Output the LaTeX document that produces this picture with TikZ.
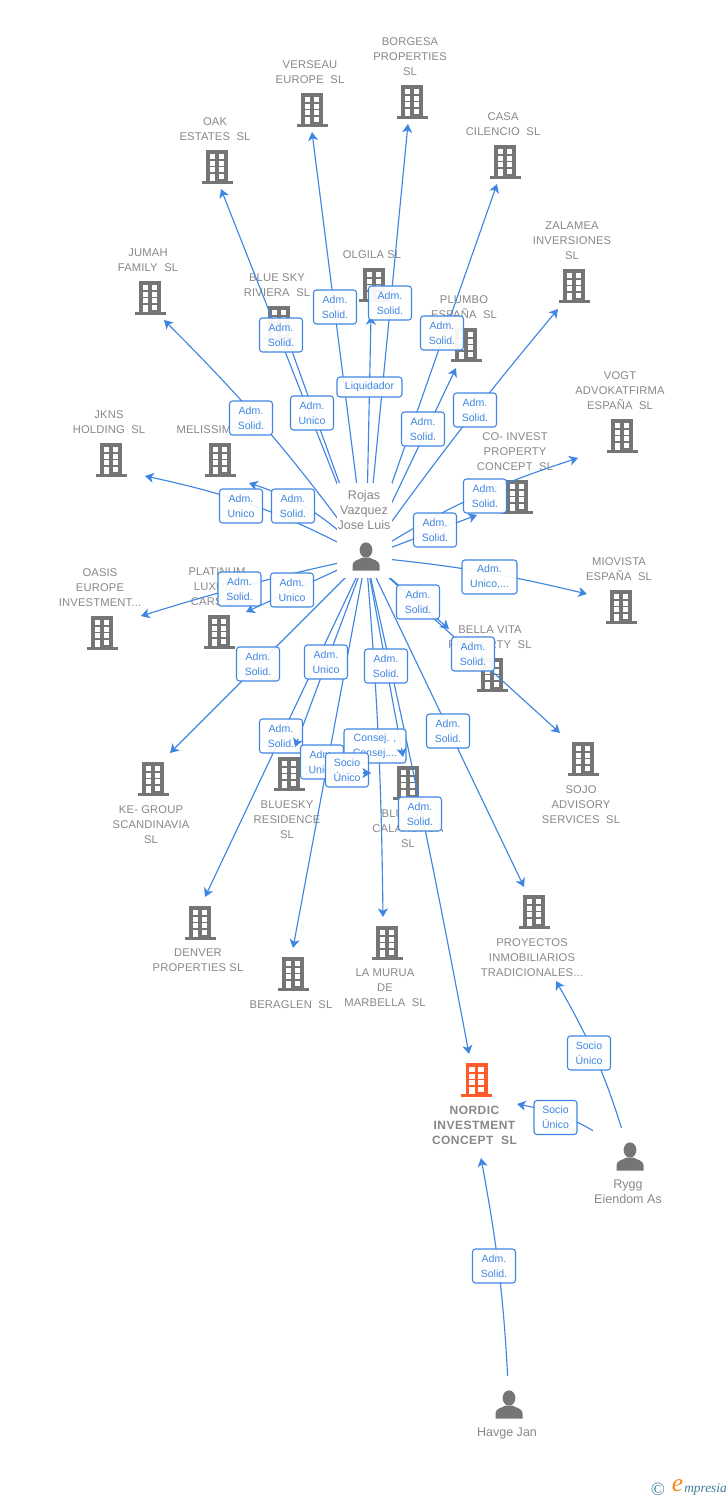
\documentclass[tikz,border=0pt]{standalone}
\usepackage{fontspec}
\setmainfont{Liberation Sans}
\newfontfamily\logofont{Liberation Serif}
\usetikzlibrary{arrows.meta, positioning}
\definecolor{bldggray}{HTML}{757575}
\definecolor{namegray}{HTML}{888888}
\definecolor{linkblue}{HTML}{3F86E2}
\definecolor{nordicorange}{HTML}{FF5A2B}
\definecolor{logoteal}{HTML}{3F7F9C}
\definecolor{logoorange}{HTML}{F5851F}
\tikzset{
    tower/.pic={
        \fill (-11,-17) rectangle (11,15);
        \fill (-15.5,14) rectangle (15.5,17);
        \foreach \wy in {-13,-6.4,0.2}{
            \fill[white] (-7.4,\wy) rectangle (-2,\wy+5);
            \fill[white] (1.8,\wy) rectangle (7.2,\wy+5);
        }
        \fill[white] (-7.4,7) rectangle (-2,14);
        \fill[white] (1.8,7) rectangle (7.2,11.5);
    },
    human/.pic={
        \fill (0,-7) ellipse (6.4 and 7.6);
        \fill (-13.5,13.5) -- (-13.5,8) .. controls (-13,3) and (-7,3) .. (-3.5,0.5)
            -- (3.5,0.5) .. controls (7,3) and (13,3) .. (13.5,8) -- (13.5,13.5) -- cycle;
    }
}
\begin{document}
\begin{tikzpicture}[x=0.75pt,y=-0.75pt,bldggray,>={Stealth[length=6.5pt,width=7.5pt,inset=1.8pt]},node distance=6.5pt]
    \tikzstyle{bldg}=[rectangle,inner sep=0pt,minimum width=23.25pt,minimum height=25.5pt]
    \tikzstyle{comp}=[inner sep=0pt,align=center,text=namegray,xshift=-1.5pt,font=\fontsize{8.4}{11.25}\selectfont\addfontfeatures{LetterSpace=1.5}]
    \tikzstyle{pers}=[inner sep=0pt,minimum size=0pt]
    \tikzstyle{persname}=[inner sep=0pt,align=center,text=namegray,xshift=-1.5pt,font=\fontsize{9.4}{11.25}\selectfont]
    \tikzstyle{mask}=[rectangle,inner sep=0pt,fill=white]
    \tikzstyle{link}=[->,draw=linkblue,line width=0.85pt]
    \tikzstyle{rel}=[rectangle,rounded corners=2.2pt,draw=linkblue,line width=0.8pt,fill=white,fill opacity=0.93,text opacity=1,
        text=linkblue,inner sep=0pt,align=center,minimum width=32.25pt,minimum height=25.5pt,font=\fontsize{7.9}{11.25}\selectfont]
    \useasboundingbox[fill=white] (0,0) rectangle (728,1500);

    % companies
    \path (217,167) node[bldg] (oak) {} pic {tower};
    \node[comp,above=of oak] (oak-t) {OAK\\ESTATES\ \ SL};
    \path (312,110) node[bldg] (verseau) {} pic {tower};
    \node[comp,above=of verseau] (verseau-t) {VERSEAU\\EUROPE\ \ SL};
    \path (412,102) node[bldg] (borgesa) {} pic {tower};
    \node[comp,above=of borgesa] (borgesa-t) {BORGESA\\PROPERTIES\\SL};
    \path (505,162) node[bldg] (casa) {} pic {tower};
    \node[comp,above=of casa] (casa-t) {CASA\\CILENCIO\ \ SL};
    \path (574,286) node[bldg] (zalamea) {} pic {tower};
    \node[comp,above=of zalamea] (zalamea-t) {ZALAMEA\\INVERSIONES\\SL};
    \path (150,298) node[bldg] (jumah) {} pic {tower};
    \node[comp,above=of jumah] (jumah-t) {JUMAH\\FAMILY\ \ SL};
    \path (374,285) node[bldg] (olgila) {} pic {tower};
    \node[comp,above=of olgila] (olgila-t) {OLGILA SL};
    \path (279,323) node[bldg] (riviera) {} pic {tower};
    \node[comp,above=of riviera] (riviera-t) {BLUE SKY\\RIVIERA\ \ SL};
    \path (466,345) node[bldg] (plumbo) {} pic {tower};
    \node[comp,above=of plumbo] (plumbo-t) {PLUMBO\\ESPAÑA\ \ SL};
    \path (622,436) node[bldg] (vogt) {} pic {tower};
    \node[comp,above=of vogt] (vogt-t) {VOGT\\ADVOKATFIRMA\\ESPAÑA\ \ SL};
    \path (111,460) node[bldg] (jkns) {} pic {tower};
    \node[comp,above=of jkns] (jkns-t) {JKNS\\HOLDING\ \ SL};
    \path (220,460) node[bldg] (melissima) {} pic {tower};
    \node[comp,above=of melissima] (melissima-t) {MELISSIMA\ \ SL};
    \path (517,497) node[bldg] (coinvest) {} pic {tower};
    \node[comp,above=of coinvest] (coinvest-t) {CO- INVEST\\PROPERTY\\CONCEPT\ \ SL};
    \path (621,607) node[bldg] (miovista) {} pic {tower};
    \node[comp,above=of miovista] (miovista-t) {MIOVISTA\\ESPAÑA\ \ SL};
    \path (102,633) node[bldg] (oasis) {} pic {tower};
    \node[comp,above=of oasis] (oasis-t) {OASIS\\EUROPE\\INVESTMENT...};
    \path (219,632) node[bldg] (platinum) {} pic {tower};
    \node[comp,above=of platinum] (platinum-t) {PLATINUM\\LUXURY\\CARS\ \ SL};
    \path (492,675) node[bldg] (bella) {} pic {tower};
    \node[comp,above=of bella] (bella-t) {BELLA VITA\\PROPERTY\ \ SL};
    \path (583,759) node[bldg] (sojo) {} pic {tower};
    \node[comp,below=of sojo] (sojo-t) {SOJO\\ADVISORY\\SERVICES\ \ SL};
    \path (153,779) node[bldg] (kegroup) {} pic {tower};
    \node[comp,below=of kegroup] (kegroup-t) {KE- GROUP\\SCANDINAVIA\\SL};
    \path (289,774) node[bldg] (bluesky) {} pic {tower};
    \node[comp,below=7.2pt of bluesky] (bluesky-t) {BLUESKY\\RESIDENCE\\SL};
    \path (408,783) node[bldg] (blucala) {} pic {tower};
    \node[comp,below=of blucala,xshift=1.5pt] (blucala-t) {BLUESKY\\CALAHONDA\\SL};
    \path (200,923) node[bldg] (denver) {} pic {tower};
    \node[comp,below=of denver] (denver-t) {DENVER\\PROPERTIES SL};
    \path (293,974) node[bldg] (beraglen) {} pic {tower};
    \node[comp,below=of beraglen] (beraglen-t) {BERAGLEN\ \ SL};
    \path (387,943) node[bldg] (murua) {} pic {tower};
    \node[comp,below=of murua] (murua-t) {LA MURUA\\DE\\MARBELLA\ \ SL};
    \path (534,912) node[bldg] (proyectos) {} pic {tower};
    \node[comp,below=of proyectos] (proyectos-t) {PROYECTOS\\INMOBILIARIOS\\TRADICIONALES...};
    \path (476.5,1080) node[bldg] (nordic) {} pic[nordicorange] {tower};
    \node[comp,below=of nordic,font=\fontsize{9}{11.25}\selectfont\bfseries\addfontfeatures{LetterSpace=4}] (nordic-t) {NORDIC\\INVESTMENT\\CONCEPT\ \ SL};

    % people
    \node[pers] (rojas) at (366,557) {};
    \node[pers] (rygg) at (630,1157) {};
    \node[pers] (havge) at (509,1405) {};

    % arrow ends
    \coordinate (oak-in) at (221,189);
    \coordinate (verseau-in) at (312,132);
    \coordinate (borgesa-in) at (408,124);
    \coordinate (casa-in) at (497,184);
    \coordinate (zalamea-in) at (558,309);
    \coordinate (jumah-in) at (164,320);
    \coordinate (olgila-in) at (371,316);
    \coordinate (riviera-in) at (288,340);
    \coordinate (plumbo-in) at (456,368);
    \coordinate (vogt-in) at (578,458);
    \coordinate (jkns-in) at (145,476);
    \coordinate (melissima-in) at (249,483);
    \coordinate (coinvest-in) at (477,515);
    \coordinate (miovista-in) at (587,594);
    \coordinate (oasis-in) at (141,616);
    \coordinate (platinum-in) at (246,612);
    \coordinate (bella-in) at (449,629);
    \coordinate (sojo-in) at (560,733);
    \coordinate (kegroup-in) at (170,753);
    \coordinate (bluesky-in) at (295,747);
    \coordinate (blucala-in) at (403,757);
    \coordinate (blucala-so) at (371,773);
    \coordinate (denver-in) at (205,897);
    \coordinate (beraglen-in) at (293,948);
    \coordinate (murua-in) at (383,917);
    \coordinate (proyectos-in) at (524,887);
    \coordinate (proyectos-so) at (556,981);
    \coordinate (nordic-in) at (469,1054);
    \coordinate (nordic-so) at (517,1104);
    \coordinate (nordic-ha) at (481,1158);

    % links
    \draw[link] (rojas)--(oak-in);
    \draw[link] (rojas)--(verseau-in);
    \draw[link] (rojas)--(borgesa-in);
    \draw[link] (rojas)--(casa-in);
    \draw[link] (rojas) to[bend left=2] (zalamea-in);
    \draw[link] (rojas) to[bend right=4.5] (jumah-in);
    \draw[link] (rojas)--(olgila-in);
    \draw[link] (rojas)--(riviera-in);
    \draw[link] (rojas)--(plumbo-in);
    \draw[link] (rojas) to[bend left=7] (vogt-in);
    \draw[link] (rojas) to[bend right=8] (jkns-in);
    \draw[link] (rojas) to[bend right=14] (melissima-in);
    \draw[link] (rojas)--(coinvest-in);
    \draw[link] (rojas) to[bend left=4] (miovista-in);
    \draw[link] (rojas) to[bend right=2.5] (oasis-in);
    \draw[link] (rojas)--(platinum-in);
    \draw[link] (rojas)--(bella-in);
    \draw[link] (rojas)--(sojo-in);
    \draw[link] (rojas)--(kegroup-in);
    \draw[link] (rojas)--(bluesky-in);
    \draw[link] (rojas)--(blucala-in);
    \draw[link] (bluesky)--(blucala-so);
    \draw[link] (rojas)--(denver-in);
    \draw[link] (rojas)--(beraglen-in);
    \draw[link] (rojas) to[bend left=2] (murua-in);
    \draw[link] (rojas)--(proyectos-in);
    \draw[link] (rojas) to[bend left=1] (nordic-in);
    \draw[link] (rygg) to[bend right=7] (proyectos-so);
    \draw[link] (rygg) to[bend right=14] (nordic-so);
    \draw[link] (havge) to[bend right=4] (nordic-ha);

    % people drawn over the link starts
    \node[mask,minimum width=41.25pt,minimum height=71.25pt] (rojas-m) at (364.5,530.5) {};
    \node[mask,minimum width=54pt,minimum height=61.5pt] (rygg-m) at (629,1169) {};
    \node[mask,minimum width=56pt,minimum height=48pt] (havge-m) at (507,1408) {};
    \pic at (rojas) {human};
    \pic at (rygg) {human};
    \pic at (havge) {human};
    \node[persname,above=20.5pt of rojas] (rojas-t) {Rojas\\Vazquez\\Jose Luis};
    \node[persname,below=17pt of rygg] (rygg-t) {Rygg\\Eiendom As};
    \node[persname,below=17pt of havge] (havge-t) {Havge Jan};

    % link labels
    \node[rel] (r1) at (335,307) {Adm.\\Solid.};
    \node[rel] (r2) at (390,303) {Adm.\\Solid.};
    \node[rel] (r3) at (281,335) {Adm.\\Solid.};
    \node[rel] (r4) at (312,413) {Adm.\\Unico};
    \node[rel] (r5) at (251,418) {Adm.\\Solid.};
    \node[rel] (r6) at (442,333) {Adm.\\Solid.};
    \node[rel] (r7) at (423,429) {Adm.\\Solid.};
    \node[rel] (r8) at (475,410) {Adm.\\Solid.};
    \node[rel,minimum width=48.75pt,minimum height=15pt] (r9) at (369.5,387) {Liquidador};
    \node[rel] (r10) at (241,506) {Adm.\\Unico};
    \node[rel] (r11) at (293,506) {Adm.\\Solid.};
    \node[rel] (r12) at (292,590) {Adm.\\Unico};
    \node[rel] (r13) at (239.5,589) {Adm.\\Solid.};
    \node[rel] (r14) at (258,664) {Adm.\\Solid.};
    \node[rel] (r15) at (326,662) {Adm.\\Unico};
    \node[rel] (r16) at (386,666) {Adm.\\Solid.};
    \node[rel] (r17) at (281,736) {Adm.\\Solid.};
    \node[rel] (r18) at (322,762) {Adm.\\Unico};
    \node[rel,minimum width=46.5pt] (r19) at (375,746) {Consej. ,\\Consej....};
    \node[rel] (r20) at (347,770) {Socio\\Único};
    \node[rel] (r21) at (420,814) {Adm.\\Solid.};
    \node[rel] (r22) at (448,731) {Adm.\\Solid.};
    \node[rel] (r23) at (418,602) {Adm.\\Solid.};
    \node[rel] (r24) at (473,654) {Adm.\\Solid.};
    \node[rel] (r25) at (435,530) {Adm.\\Solid.};
    \node[rel] (r26) at (485,496) {Adm.\\Solid.};
    \node[rel,minimum width=41.25pt] (r27) at (489.5,577) {Adm.\\Unico,...};
    \node[rel] (r28) at (589,1053) {Socio\\Único};
    \node[rel] (r29) at (555.5,1117.5) {Socio\\Único};
    \node[rel] (r30) at (494,1266) {Adm.\\Solid.};

    % arrow heads that stay on top of the labels
    \coordinate (bluesky-st) at (298,739);
    \coordinate (blucala-st) at (401.5,748);
    \coordinate (socio-st) at (363,773);
    \draw[link] (bluesky-st)--(bluesky-in);
    \draw[link] (blucala-st)--(blucala-in);
    \draw[link] (socio-st)--(blucala-so);

    % logo
    \node[inner sep=0pt,text=logoteal,font=\logofont\fontsize{14}{14}\selectfont] (logo-c) at (658,1489) {©};
    \node[inner sep=0pt,text=logoorange,font=\logofont\itshape\fontsize{19}{19}\selectfont] (logo-e) at (677.5,1486) {e};
    \node[inner sep=0pt,text=logoteal,anchor=west,font=\logofont\itshape\fontsize{10}{10}\selectfont] (logo-t) at (684,1489.5) {mpresia};
\end{tikzpicture}
\end{document}
